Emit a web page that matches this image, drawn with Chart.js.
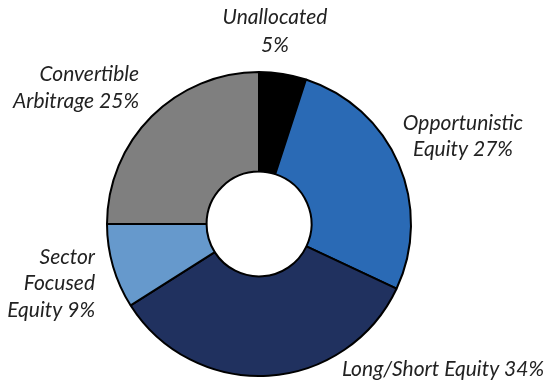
<!DOCTYPE html>
<html>
<head>
<meta charset="utf-8">
<script src="https://cdn.jsdelivr.net/npm/chart.js@4"></script>
<style>
html,body{margin:0;padding:0;background:#fff;}
canvas{display:block;}
</style>
</head>
<body>
<canvas id="c" width="545" height="381"></canvas>
<script>
const categories = ["Unallocated", "Opportunistic Equity", "Long/Short Equity", "Sector Focused Equity", "Convertible Arbitrage"];
const values = [5, 27, 34, 9, 25];
const colors = ["#000000", "#2a6ab5", "#20315f", "#6699cc", "#7f7f7f"];

// label text lines and layout (x, y of each line, alignment)
const labelLines = [
  {lines: ["Unallocated", "5%"], x: 275, y: 17, align: "center"},
  {lines: ["Opportunistic", "Equity 27%"], x: 463, y: 123, align: "center"},
  {lines: ["Long/Short Equity 34%"], x: 443, y: 369, align: "center"},
  {lines: ["Sector", "Focused", "Equity 9%"], x: 95, y: 257, align: "right"},
  {lines: ["Convertible", "Arbitrage 25%"], x: 139, y: 74, align: "right"}
];
const lineHeight = [28, 26, 26, 26.5, 27];

const labelPlugin = {
  id: 'labels',
  afterDraw(chart) {
    const ctx = chart.ctx;
    ctx.save();
    ctx.font = "italic 21px Lato";
    ctx.fillStyle = "#222222";
    ctx.textBaseline = "middle";
    labelLines.forEach((l, i) => {
      ctx.textAlign = l.align;
      l.lines.forEach((t, j) => {
        ctx.fillText(t, l.x, l.y + j * lineHeight[i]);
      });
    });
    ctx.restore();
  }
};

new Chart(document.getElementById('c'), {
  type: 'doughnut',
  data: {
    labels: categories,
    datasets: [{
      data: values,
      backgroundColor: colors,
      borderColor: "#000000",
      borderWidth: 2
    }]
  },
  options: {
    responsive: false,
    devicePixelRatio: 1,
    animation: false,
    cutout: '34.5%',
    layout: {padding: {left: 106, right: 133, top: 71, bottom: 4}},
    plugins: {legend: {display: false}, tooltip: {enabled: false}}
  },
  plugins: [labelPlugin]
});
</script>
</body>
</html>
